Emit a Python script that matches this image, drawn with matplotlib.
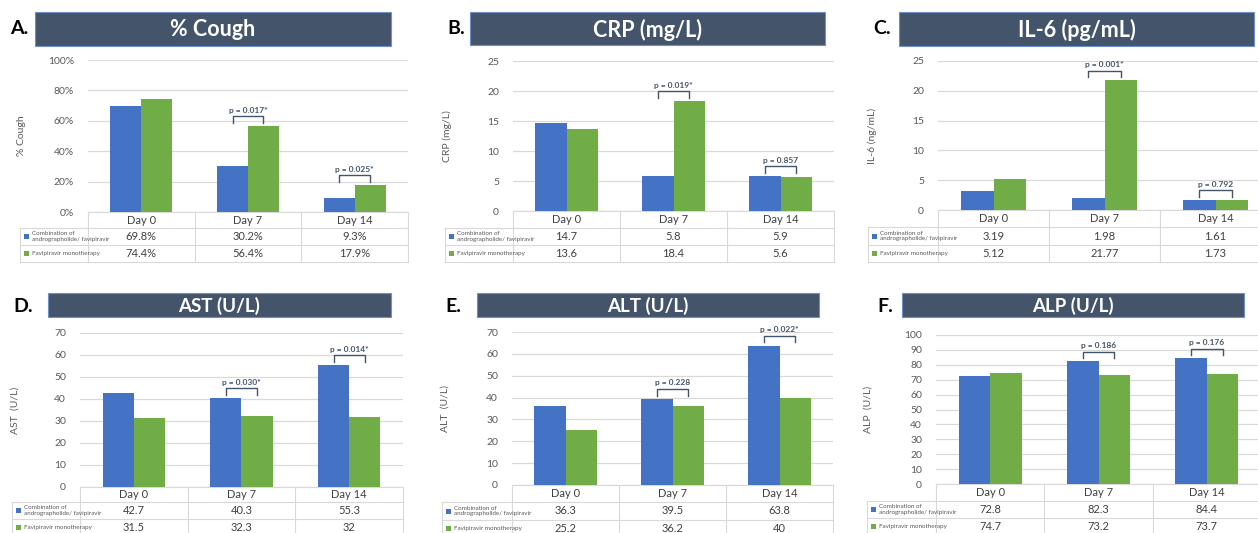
import matplotlib
matplotlib.use("Agg")
import matplotlib.pyplot as plt
from matplotlib.patches import Rectangle
from matplotlib.ticker import FuncFormatter

plt.rcParams['font.family'] = ['Lato', 'DejaVu Sans']

# ---------------- data ----------------
days = ["Day 0", "Day 7", "Day 14"]
series_names = ["Combination of\nandrographolide/ favipiravir", "Favipiravir monotherapy"]

cough_combo = [69.8, 30.2, 9.3]
cough_favi = [74.4, 56.4, 17.9]
crp_combo = [14.7, 5.8, 5.9]
crp_favi = [13.6, 18.4, 5.6]
il6_combo = [3.19, 1.98, 1.61]
il6_favi = [5.12, 21.77, 1.73]
ast_combo = [42.7, 40.3, 55.3]
ast_favi = [31.5, 32.3, 32]
alt_combo = [36.3, 39.5, 63.8]
alt_favi = [25.2, 36.2, 40]
alp_combo = [72.8, 82.3, 84.4]
alp_favi = [74.7, 73.2, 73.7]

titles = ["% Cough", "CRP (mg/L)", "IL-6 (pg/mL)", "AST (U/L)", "ALT (U/L)", "ALP (U/L)"]
letters = ["A.", "B.", "C.", "D.", "E.", "F."]
ylabels = ["% Cough", "CRP (mg/L)", "IL-6 (ng/mL)", "AST  (U/L)", "ALT  (U/L)", "ALP  (U/L)"]
yticks = [[0, 20, 40, 60, 80, 100], [0, 5, 10, 15, 20, 25], [0, 5, 10, 15, 20, 25],
          [0, 10, 20, 30, 40, 50, 60, 70], [0, 10, 20, 30, 40, 50, 60, 70],
          [0, 10, 20, 30, 40, 50, 60, 70, 80, 90, 100]]
pvalues = [
    [(1, "p = 0.017*"), (2, "p = 0.025*")],
    [(1, "p = 0.019*"), (2, "p = 0.857")],
    [(1, "p = 0.001*"), (2, "p = 0.792")],
    [(1, "p = 0.030*"), (2, "p = 0.014*")],
    [(1, "p = 0.228"), (2, "p = 0.022*")],
    [(1, "p = 0.186"), (2, "p = 0.176")],
]
combo_all = [cough_combo, crp_combo, il6_combo, ast_combo, alt_combo, alp_combo]
favi_all = [cough_favi, crp_favi, il6_favi, ast_favi, alt_favi, alp_favi]
percent = [True, False, False, False, False, False]

# ---------------- layout (pixels) ----------------
W, H = 1258, 533
# plot_left, plot_right, y_top, y_zero, table_left, rows, banner(x0,y0,x1,y1), letter_x, letter_y, ylabel_x, title_size
geo = [
    (88, 408, 60, 212, 20, (212, 228, 245, 262), (35, 12, 391, 46), 10, 29, 22, 15.5),
    (513, 834, 61, 211, 445, (211, 228, 245, 262), (470, 12, 825, 45), 447, 29, 447, 15.5),
    (938, 1271, 61, 210, 868, (210, 227, 245, 262), (899, 12, 1254, 46), 873, 29, 872, 15.5),
    (80, 403, 333, 487, 12, (487, 502, 519, 536), (48, 293, 391, 317), 13, 306, 15, 13.5),
    (512, 833, 332, 485, 442, (485, 502, 520, 537), (477, 293, 819, 317), 445, 306, 445, 13.5),
    (936, 1261, 335, 484, 867, (484, 501, 518, 535), (902, 293, 1244, 317), 877, 306, 868, 13.5),
]

BLUE = "#4472C4"
GREEN = "#70AD47"
GRID = "#D9D9D9"
TXT = "#595959"
DARK = "#44546A"

fig = plt.figure(figsize=(W / 100, H / 100), dpi=100)
fig.patch.set_facecolor("white")

ov = fig.add_axes([0, 0, 1, 1])
ov.set_xlim(0, W)
ov.set_ylim(H, 0)
ov.axis("off")

bw = 0.29
for k in range(6):
    pl, pr, yt, y0, tl, rows, ban, lx, ly, ylx, tsize = geo[k]
    combo = combo_all[k]
    favi = favi_all[k]
    ymax = yticks[k][-1]

    # banner + letter
    bx0, by0, bx1, by1 = ban
    ov.add_patch(Rectangle((bx0, by0), bx1 - bx0, by1 - by0, facecolor=DARK,
                           edgecolor="#6F8FC8", linewidth=0.8))
    ov.text((bx0 + bx1) / 2, (by0 + by1) / 2 + 1, titles[k], color="white",
            fontsize=tsize, fontweight="bold", ha="center", va="center")
    ov.text(lx, ly, letters[k], color="black", fontsize=14, fontweight="bold",
            ha="left", va="center")

    # bar axes
    ax = fig.add_axes([pl / W, 1 - y0 / H, (pr - pl) / W, (y0 - yt) / H])
    ax.patch.set_alpha(0)
    x = list(range(len(days)))
    ax.bar([i - bw / 2 for i in x], combo, width=bw, color=BLUE, zorder=3)
    ax.bar([i + bw / 2 for i in x], favi, width=bw, color=GREEN, zorder=3)
    ax.set_xlim(-0.5, 2.5)
    ax.set_ylim(0, ymax)
    ax.set_yticks(yticks[k])
    if percent[k]:
        ax.yaxis.set_major_formatter(FuncFormatter(lambda v, p: f"{v:.0f}%"))
    ax.set_xticks([])
    for s in ax.spines.values():
        s.set_visible(False)
    ax.yaxis.grid(True, color=GRID, linewidth=0.9, zorder=0)
    ax.tick_params(axis="y", length=0, pad=10, labelsize=7.5, labelcolor=TXT)
    ax.set_axisbelow(True)

    # p-value brackets
    for (ci, txt) in pvalues[k]:
        top = max(combo[ci], favi[ci])
        yb = top + 0.065 * ymax
        tick = 0.045 * ymax
        xl, xr = ci - bw / 2, ci + bw / 2
        ax.plot([xl, xl, xr, xr], [yb - tick, yb, yb, yb - tick], color=DARK,
                linewidth=1.0, clip_on=False, zorder=4)
        ax.text(ci, yb + 0.015 * ymax, txt, color=DARK, fontsize=6, fontweight="bold",
                ha="center", va="bottom", clip_on=False)

    # y label
    ov.text(ylx, (yt + y0) / 2, ylabels[k], rotation=90, color=TXT, fontsize=7.5,
            ha="center", va="center")

    # data table
    cw = (pr - pl) / 3
    cols = [pl + j * cw for j in range(4)]
    lw = 0.8
    ov.plot([pl, pr], [rows[0], rows[0]], color=GRID, lw=lw)
    for r in rows[1:]:
        ov.plot([tl, pr], [r, r], color=GRID, lw=lw)
    for c in cols:
        ov.plot([c, c], [rows[0], rows[3]], color=GRID, lw=lw)
    ov.plot([tl, tl], [rows[1], rows[3]], color=GRID, lw=lw)

    for j, d in enumerate(days):
        cx = (cols[j] + cols[j + 1]) / 2
        ov.text(cx, (rows[0] + rows[1]) / 2, d, color="#404040", fontsize=8,
                ha="center", va="center")
        for ri, vals in enumerate([combo, favi]):
            lab = f"{vals[j]:g}" + ("%" if percent[k] else "")
            ov.text(cx, (rows[ri + 1] + rows[ri + 2]) / 2, lab, color="#404040",
                    fontsize=8, ha="center", va="center")

    for ri, (nm, col) in enumerate(zip(series_names, [BLUE, GREEN])):
        yc = (rows[ri + 1] + rows[ri + 2]) / 2
        ov.add_patch(Rectangle((tl + 4, yc - 2.5), 5, 5, facecolor=col, edgecolor="none"))
        ov.text(tl + 12, yc, nm, color=TXT, fontsize=4.5, ha="left", va="center",
                linespacing=1.1)

fig.savefig("out.png", dpi=100, facecolor="white")
